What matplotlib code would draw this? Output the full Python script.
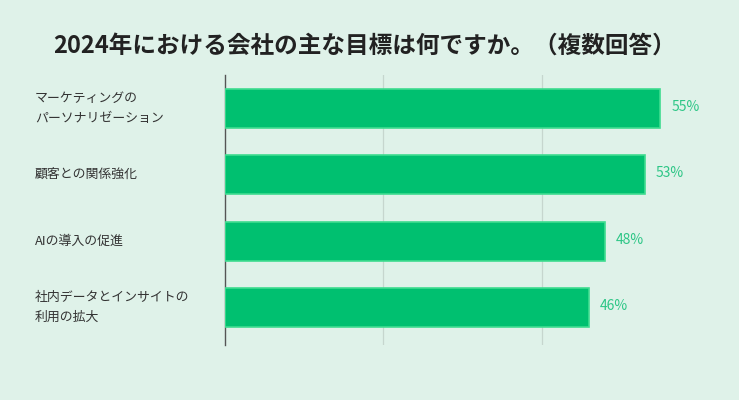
import matplotlib
matplotlib.use('Agg')
import matplotlib.pyplot as plt
import numpy as np

plt.rcParams['font.family'] = ['Noto Sans CJK JP', 'DejaVu Sans']

# data
title = '2024年における会社の主な目標は何ですか。（複数回答）'
categories = ['マーケティングの\nパーソナリゼーション', '顧客との関係強化', 'AIの導入の促進', '社内データとインサイトの\n利用の拡大']
values = [55, 53, 48, 46]

bg = '#dff2e9'
bar_color = '#00c070'
edge_color = '#3fdc90'
text_color = '#333333'
value_color = '#2dc686'

fig = plt.figure(figsize=(7.39, 4.0), dpi=100, facecolor=bg)
ax = fig.add_axes([225 / 739, 1 - 345 / 400, 475 / 739, 270 / 400])
ax.set_facecolor(bg)

y = np.arange(len(categories))
ax.barh(y, values, height=0.59, color=bar_color, edgecolor=edge_color, linewidth=1.2, zorder=3)

ax.set_xlim(0, 60)
ax.set_ylim(3.56, -0.5)
ax.set_xticks([20, 40])
ax.xaxis.grid(True, color='#c6d6ce', linewidth=0.9, zorder=0)
ax.tick_params(axis='x', length=0, labelbottom=False)
ax.tick_params(axis='y', length=0)
for s in ['top', 'right', 'bottom']:
	ax.spines[s].set_visible(False)
ax.spines['left'].set_color('#555555')
ax.spines['left'].set_linewidth(1.0)
ax.set_yticks([])

# category labels, left aligned
for yi, lab in zip(y, categories):
	ax.text(-190 / 7.91, yi, lab, ha='left', va='center', fontsize=9.3, color=text_color,
		linespacing=1.7)

# value labels
for yi, v in zip(y, values):
	ax.text(v + 1.4, yi - 0.02, f'{v}%', ha='left', va='center', fontsize=10, color=value_color)

fig.text(365 / 739, 1 - 46 / 400, title, ha='center', va='center', fontsize=17,
	fontweight='bold', color='#222222')

plt.savefig('out.png', dpi=100, facecolor=bg)
plt.close()
